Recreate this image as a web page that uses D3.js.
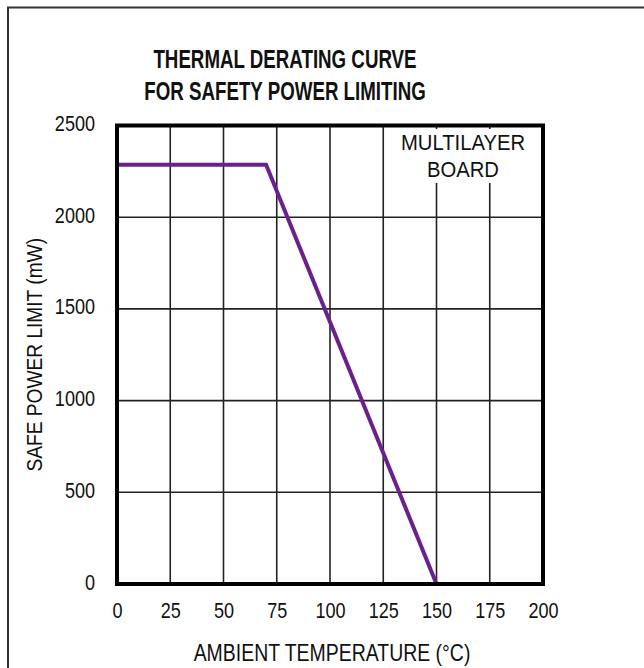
<!DOCTYPE html>
<html><head><meta charset="utf-8">
<script src="https://cdn.jsdelivr.net/npm/d3@7"></script>
<style>
body{margin:0;background:#fff;}
svg text{font-family:"Liberation Sans",Arial,sans-serif;fill:#111;}
</style></head><body>
<svg id="c" width="644" height="668"></svg>
<script>
const titleLines = ["THERMAL DERATING CURVE", "FOR SAFETY POWER LIMITING"];
const xLabel = "AMBIENT TEMPERATURE (°C)";
const yLabel = "SAFE POWER LIMIT (mW)";
const noteLines = ["MULTILAYER", "BOARD"];
const temps = [0, 70, 150];
const power = [2286, 2286, 0];
const xTicks = [0, 25, 50, 75, 100, 125, 150, 175, 200];
const yTicks = [0, 500, 1000, 1500, 2000, 2500];

const svg = d3.select("#c");
const m = {l:117, t:125.5, r:543, b:584};
const x = d3.scaleLinear().domain([0,200]).range([m.l, m.r]);
const y = d3.scaleLinear().domain([0,2500]).range([m.b, m.t]);

function squeeze(sel, f){
  sel.each(function(){
    const w = this.getComputedTextLength();
    d3.select(this).attr("textLength", w*f).attr("lengthAdjust","spacingAndGlyphs");
  });
}

// outer border
svg.append("rect").attr("x",8).attr("y",7.5).attr("width",700).attr("height",700)
  .attr("fill","none").attr("stroke","#333").attr("stroke-width",2);

// grid
const g = svg.append("g");
g.selectAll("line.vx").data(xTicks.slice(1,-1)).join("line")
  .attr("x1",d=>x(d)).attr("x2",d=>x(d)).attr("y1",m.t).attr("y2",m.b)
  .attr("stroke","#222").attr("stroke-width",1.6);
g.selectAll("line.hy").data(yTicks.slice(1,-1)).join("line")
  .attr("x1",m.l).attr("x2",m.r).attr("y1",d=>y(d)).attr("y2",d=>y(d))
  .attr("stroke","#222").attr("stroke-width",1.6);

// note background & text
svg.append("rect").attr("x",400).attr("y",129).attr("width",127).attr("height",54).attr("fill","#fff");
const note = svg.selectAll("text.note").data(noteLines).join("text").attr("class","note")
  .attr("x",463).attr("y",(d,i)=>150+i*27).attr("text-anchor","middle").attr("font-size",22).text(d=>d);
squeeze(note, 0.92);

// curve
const line = d3.line().x((d,i)=>x(temps[i])).y(d=>y(d));
svg.append("path").datum(power).attr("d",line).attr("fill","none")
  .attr("stroke","#6a2189").attr("stroke-width",4).attr("stroke-linejoin","miter");

// frame
svg.append("rect").attr("x",m.l).attr("y",m.t).attr("width",m.r-m.l).attr("height",m.b-m.t)
  .attr("fill","none").attr("stroke","#000").attr("stroke-width",4);

// axes (labels only)
const xa = svg.append("g").attr("transform",`translate(0,${m.b})`)
  .call(d3.axisBottom(x).tickValues(xTicks).tickFormat(d3.format("d")).tickSize(0).tickPadding(18));
xa.select(".domain").remove();
xa.attr("font-family",null).attr("font-size",null);
xa.selectAll("text").attr("font-size",22).attr("fill","#111");
squeeze(xa.selectAll("text"), 0.82);
const ya = svg.append("g").attr("transform",`translate(${m.l},0)`)
  .call(d3.axisLeft(y).tickValues(yTicks).tickFormat(d3.format("d")).tickSize(0).tickPadding(22));
ya.select(".domain").remove();
ya.attr("font-family",null).attr("font-size",null);
ya.selectAll("text").attr("font-size",22).attr("fill","#111").attr("dy","0.23em");
squeeze(ya.selectAll("text"), 0.82);

// titles
const tt = svg.selectAll("text.title").data(titleLines).join("text").attr("class","title")
  .attr("x",285).attr("y",(d,i)=>67.5+i*32.5).attr("text-anchor","middle")
  .attr("font-weight","bold").attr("font-size",26).text(d=>d);
squeeze(tt, 0.72);

const xl = svg.append("text").attr("x",332).attr("y",661).attr("text-anchor","middle").attr("font-size",24).text(xLabel);
squeeze(xl, 0.81);
const yl = svg.append("text").attr("transform",`translate(42,${(m.t+m.b)/2}) rotate(-90)`)
  .attr("text-anchor","middle").attr("font-size",22).text(yLabel);
squeeze(yl, 0.87);
</script></body></html>
